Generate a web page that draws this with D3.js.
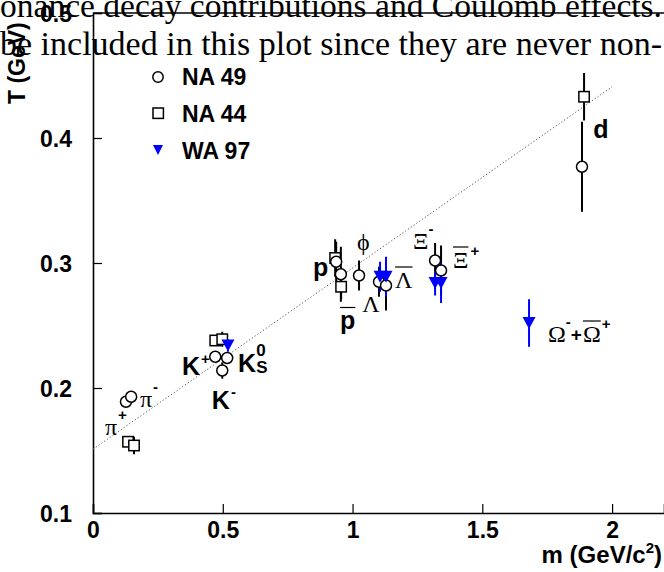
<!DOCTYPE html>
<html><head><meta charset="utf-8">
<script src="https://cdn.jsdelivr.net/npm/d3@7"></script>
<style>html,body{margin:0;padding:0;background:#fff;overflow:hidden}</style>
</head><body>
<svg id="c" width="664" height="572"></svg>
<script>
// ---- data ----
// NA 49 (open circles): [mass GeV/c^2, T GeV, error]
const na49 = [
  [0.127, 0.189, 0], [0.147, 0.193, 0],
  [0.471, 0.225, 0], [0.498, 0.214, 0.0065], [0.517, 0.224, 0],
  [0.937, 0.301, 0.016], [0.955, 0.291, 0.022], [1.025, 0.290, 0.012],
  [1.102, 0.285, 0.012], [1.129, 0.282, 0.020],
  [1.318, 0.302, 0.014], [1.341, 0.294, 0.020],
  [1.884, 0.377, 0.036]
];
// NA 44 (open squares)
const na44 = [
  [0.135, 0.157, 0], [0.158, 0.154, 0.007],
  [0.471, 0.238, 0], [0.498, 0.239, 0.006],
  [0.933, 0.304, 0.015], [0.956, 0.281, 0.010],
  [1.892, 0.433, 0.019]
];
// WA 97 (filled blue down-triangles)
const wa97 = [
  [0.520, 0.234, 0.005],
  [1.106, 0.289, 0.012], [1.129, 0.289, 0.016],
  [1.318, 0.284, 0.010], [1.341, 0.284, 0.016],
  [1.680, 0.252, 0.019]
];
// linear fit T = a + b m (end points)
const fitLine = [[0, 0.151], [2.0, 0.441]];
const xTicks = [0, 0.5, 1, 1.5, 2];
const yTicks = [0.1, 0.2, 0.3, 0.4, 0.5];
const legendNames = ["NA 49", "NA 44", "WA 97"];
const pageText = ["onance decay contributions and Coulomb effects.",
                  "be included in this plot since they are never non-"];

const svg = d3.select('#c');
const x = d3.scaleLinear().domain([0, 2.2]).range([93, 664]);
const y = d3.scaleLinear().domain([0.1, 0.5]).range([513, 13]);
const SANS = "Liberation Sans", SERIF = "Liberation Serif";

// frame top
svg.append('line').attr('x1', x(0)).attr('x2', 664).attr('y1', y(0.5)).attr('y2', y(0.5))
  .attr('stroke', '#000').attr('stroke-width', 1.6);

// axes
const minorX = d3.range(0, 2.21, 0.1).map(v => +v.toFixed(2));
const minorY = d3.range(0.1, 0.501, 0.02).map(v => +v.toFixed(2));
const gx = svg.append('g').attr('transform', `translate(0,${y(0.1)})`);
gx.call(d3.axisBottom(x).tickValues(minorX).tickSize(-4.5).tickFormat(''));
gx.call(d3.axisBottom(x).tickValues(xTicks).tickSize(-9).tickPadding(9).tickFormat(d3.format('')));
const gy = svg.append('g').attr('transform', `translate(${x(0)},0)`);
gy.call(d3.axisLeft(y).tickValues(minorY).tickSize(-4.5).tickFormat(''));
gy.call(d3.axisLeft(y).tickValues(yTicks).tickSize(-9).tickPadding(21).tickFormat(d3.format('.1f')));
svg.selectAll('.domain').attr('stroke', '#000').attr('stroke-width', 1.6);
svg.selectAll('.tick line').attr('stroke', '#000').attr('stroke-width', 1.2);
svg.selectAll('.tick text').attr('font-family', SANS).attr('font-weight', 'bold')
  .attr('font-size', 23).attr('fill', '#000');
gy.selectAll('.tick text').attr('dy', '0.36em');

// axis titles
svg.append('text').attr('transform', 'translate(25,104) rotate(-90)')
  .attr('font-family', SANS).attr('font-weight', 'bold').attr('font-size', 23).text('T (GeV)');
const xt = svg.append('text').attr('x', 662).attr('y', 563).attr('text-anchor', 'end')
  .attr('font-family', SANS).attr('font-weight', 'bold').attr('font-size', 24);
xt.append('tspan').text('m (GeV/c');
xt.append('tspan').attr('dy', -10).attr('font-size', 15).text('2');
xt.append('tspan').attr('dy', 10).text(')');

// fit line
svg.append('path').datum(fitLine)
  .attr('d', d3.line().x(d => x(d[0])).y(d => y(d[1])))
  .attr('fill', 'none').attr('stroke', '#555').attr('stroke-width', 1).attr('stroke-dasharray', '1.2,2.2');

// error bars
function errBars(data, color) {
  svg.append('g').selectAll('line').data(data.filter(d => d[2] > 0)).join('line')
    .attr('x1', d => x(d[0])).attr('x2', d => x(d[0]))
    .attr('y1', d => y(d[1] - d[2])).attr('y2', d => y(d[1] + d[2]))
    .attr('stroke', color).attr('stroke-width', 2);
}
errBars(na49, '#000'); errBars(na44, '#000'); errBars(wa97, '#00f');

const triDown = (cx, cy, w, h) => `M${cx - w / 2},${cy - h / 2}L${cx + w / 2},${cy - h / 2}L${cx},${cy + h / 2}Z`;

svg.append('g').selectAll('rect').data(na44).join('rect')
  .attr('x', d => x(d[0]) - 5.2).attr('y', d => y(d[1]) - 5.2).attr('width', 10.4).attr('height', 10.4)
  .attr('fill', '#fff').attr('stroke', '#000').attr('stroke-width', 1.5);
svg.append('g').selectAll('circle').data(na49).join('circle')
  .attr('cx', d => x(d[0])).attr('cy', d => y(d[1])).attr('r', 5.5)
  .attr('fill', '#fff').attr('stroke', '#000').attr('stroke-width', 1.5);
svg.append('g').selectAll('path').data(wa97).join('path')
  .attr('d', d => triDown(x(d[0]), y(d[1]), 13, 12)).attr('fill', '#00f');

// legend
const lg = svg.append('g');
lg.append('circle').attr('cx', 158).attr('cy', 77).attr('r', 5.2).attr('fill', '#fff').attr('stroke', '#000').attr('stroke-width', 1.5);
lg.append('rect').attr('x', 153).attr('y', 108).attr('width', 10.4).attr('height', 10.4).attr('fill', '#fff').attr('stroke', '#000').attr('stroke-width', 1.5);
lg.append('path').attr('d', triDown(158, 150, 10, 10)).attr('fill', '#00f');
lg.selectAll('text').data(legendNames).join('text')
  .attr('x', 182).attr('y', (d, i) => 85 + i * 37)
  .attr('font-family', SANS).attr('font-weight', 'bold').attr('font-size', 23).text(d => d);

// particle labels
function rich(px, py, segs) {
  let cx = x(px); const by = y(py);
  const g = svg.append('g');
  segs.forEach(s => {
    const t = g.append('text').attr('x', cx + (s.dx || 0)).attr('y', by + (s.dy || 0))
      .attr('font-family', s.serif ? SERIF : SANS).attr('font-weight', s.serif ? 'normal' : 'bold')
      .attr('font-size', s.size).text(s.t);
    const w = t.node().getComputedTextLength();
    if (s.bar) g.append('line').attr('x1', cx + (s.dx || 0)).attr('x2', cx + (s.dx || 0) + w)
      .attr('y1', by - s.bar).attr('y2', by - s.bar).attr('stroke', '#000').attr('stroke-width', 1.2);
    if (!s.stack) cx += w + (s.dx || 0);
  });
}
const G = 24, B = 25, S = 15;
rich(0.046, 0.1624, [{t: 'π', serif: 1, size: G}, {t: '+', size: S, dy: -15, dx: 1}]);
rich(0.181, 0.1848, [{t: 'π', serif: 1, size: G}, {t: '-', size: S, dy: -15, dx: 1}]);
rich(0.343, 0.2104, [{t: 'K', size: B}, {t: '+', size: S, dy: -11, dx: 1}]);
rich(0.559, 0.2128, [{t: 'K', size: B}, {t: '0', size: 17, dy: -16, dx: 0, stack: 1}, {t: 'S', size: 17, dy: 1}]);
rich(0.458, 0.1832, [{t: 'K', size: B}, {t: '-', size: S, dy: -12, dx: 1}]);
rich(0.848, 0.2896, [{t: 'p', size: B}]);
rich(0.952, 0.2476, [{t: 'p', size: B, bar: 21}]);
rich(1.037, 0.2608, [{t: 'Λ', serif: 1, size: G}]);
rich(1.164, 0.2800, [{t: 'Λ', serif: 1, size: G, bar: 21}]);
rich(1.017, 0.3104, [{t: 'ϕ', serif: 1, size: G}]);
rich(1.233, 0.3112, [{t: 'Ξ', serif: 1, size: G}, {t: '-', size: S, dy: -15, dx: 0}]);
rich(1.387, 0.2960, [{t: 'Ξ', serif: 1, size: G, bar: 21}, {t: '+', size: S, dy: -12, dx: 2}]);
rich(1.753, 0.2368, [{t: 'Ω', serif: 1, size: G}, {t: '-', size: S, dy: -15, dx: 0}, {t: '+', size: 19, dy: -1, dx: 0},
                     {t: 'Ω', serif: 1, size: G, bar: 21, dx: 1}, {t: '+', size: S, dy: -13, dx: 1}]);
rich(1.927, 0.4000, [{t: 'd', size: B}]);

// overlapping page text
svg.append('g').selectAll('text').data(pageText).join('text')
  .attr('x', 0).attr('y', (d, i) => 17 + i * 38)
  .attr('textLength', 662).attr('lengthAdjust', 'spacingAndGlyphs')
  .attr('font-family', SERIF).attr('font-size', 34).attr('fill', '#000').text(d => d);
</script>
</body></html>
